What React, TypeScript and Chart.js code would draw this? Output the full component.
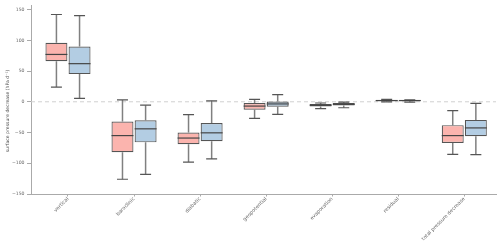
import React, { useEffect, useRef } from "react";
import { Chart, registerables } from "chart.js";

Chart.register(...registerables);

const categories = ["vertical", "baroclinic", "diabatic", "geopotential", "evaporation", "residual", "total pressure decrease"];
const yTicks = [-150, -100, -50, 0, 50, 100, 150];
const yTitle = "surface pressure decrease (hPa d\u207B\u00B9)";

// series A (red)
const aMin = [24, -126, -98, -27, -11, 0, -85.5];
const aQ1 = [66, -82, -69, -13, -7.5, 1, -67];
const aMed = [77, -55, -59, -7, -5.5, 2, -55];
const aQ3 = [96, -32, -50, -2, -3.5, 3, -38];
const aMax = [142, 3, -21, 4, -2, 4, -14.5];

// series B (blue)
const bMin = [5.5, -118, -93, -20.5, -9.7, -0.5, -86];
const bQ1 = [45, -66, -64, -8, -6, 1, -56];
const bMed = [62, -44, -50.5, -3.5, -4, 2, -42.5];
const bQ3 = [90, -30, -34.5, 0.5, -2, 2.5, -29.5];
const bMax = [140, -5.5, 1.5, 11.5, -0.5, 3, -2.7];

const stats = [
  { min: aMin, med: aMed, max: aMax, q1: aQ1, q3: aQ3 },
  { min: bMin, med: bMed, max: bMax, q1: bQ1, q3: bQ3 },
];

const boxPlugin = {
  id: "boxExtras",
  beforeDatasetsDraw(chart: any) {
    const { ctx, chartArea, scales } = chart;
    const y0 = scales.y.getPixelForValue(0);
    ctx.save();
    ctx.strokeStyle = "#d0d0d0";
    ctx.lineWidth = 1;
    ctx.setLineDash([4, 3]);
    ctx.beginPath();
    ctx.moveTo(chartArea.left, y0);
    ctx.lineTo(chartArea.right, y0);
    ctx.stroke();
    ctx.restore();
    const ys = scales.y;
    stats.forEach((s, di) => {
      const meta = chart.getDatasetMeta(di);
      meta.data.forEach((el: any, i: number) => {
        const { x, width } = el.getProps(["x", "width"], true);
        ctx.save();
        ctx.strokeStyle = "#808080";
        ctx.lineWidth = 1.5;
        ctx.beginPath();
        ctx.moveTo(x, ys.getPixelForValue(s.q3[i]));
        ctx.lineTo(x, ys.getPixelForValue(s.max[i]));
        ctx.moveTo(x, ys.getPixelForValue(s.q1[i]));
        ctx.lineTo(x, ys.getPixelForValue(s.min[i]));
        ctx.stroke();
        ctx.strokeStyle = "#555";
        ctx.lineWidth = 1.2;
        ctx.beginPath();
        const hw = width / 4;
        ctx.moveTo(x - hw, ys.getPixelForValue(s.max[i]));
        ctx.lineTo(x + hw, ys.getPixelForValue(s.max[i]));
        ctx.moveTo(x - hw, ys.getPixelForValue(s.min[i]));
        ctx.lineTo(x + hw, ys.getPixelForValue(s.min[i]));
        ctx.stroke();
        ctx.restore();
      });
    });
  },
  afterDatasetsDraw(chart: any) {
    const { ctx, scales } = chart;
    const ys = scales.y;
    stats.forEach((s, di) => {
      const meta = chart.getDatasetMeta(di);
      meta.data.forEach((el: any, i: number) => {
        const { x, width } = el.getProps(["x", "width"], true);
        ctx.save();
        ctx.strokeStyle = "#444";
        ctx.lineWidth = 1.2;
        ctx.beginPath();
        const py = ys.getPixelForValue(s.med[i]);
        ctx.moveTo(x - width / 2, py);
        ctx.lineTo(x + width / 2, py);
        ctx.stroke();
        ctx.restore();
      });
    });
  },
  afterDraw(chart: any) {
    const { ctx, scales } = chart;
    const ys = scales.y;
    // axis title, placed a little below the axis centre as in the reference
    const cy = ys.getPixelForValue(-15);
    ctx.save();
    ctx.translate(7.5, cy);
    ctx.rotate(-Math.PI / 2);
    ctx.fillStyle = "#555";
    ctx.font = "4.6px 'DejaVu Sans'";
    ctx.textAlign = "center";
    ctx.textBaseline = "middle";
    ctx.fillText(yTitle, 0, 0);
    ctx.restore();
  },
};

export default function App() {
  const ref = useRef<HTMLCanvasElement>(null);
  useEffect(() => {
    if (!ref.current) return;
    const mk = (q1: number[], q3: number[]) => categories.map((_, i) => ({ x: i, y: [q1[i], q3[i]] }));
    const chart = new Chart(ref.current, {
      type: "bar",
      data: {
        datasets: [
          {
            label: "A",
            data: mk(aQ1, aQ3) as any,
            backgroundColor: "#fbb4ae",
            borderColor: "#555",
            borderWidth: 1.2,
            borderSkipped: false,
            categoryPercentage: 0.7,
            barPercentage: 0.95,
          },
          {
            label: "B",
            data: mk(bQ1, bQ3) as any,
            backgroundColor: "#b3cde3",
            borderColor: "#555",
            borderWidth: 1.2,
            borderSkipped: false,
            categoryPercentage: 0.7,
            barPercentage: 0.95,
          },
        ],
      },
      options: {
        animation: false,
        responsive: false,
        layout: { padding: { top: 5, right: 4, left: 0, bottom: 0 } },
        plugins: { legend: { display: false }, tooltip: { enabled: false } },
        scales: {
          x: {
            type: "linear",
            offset: false,
            min: -0.56,
            max: 6.48,
            afterBuildTicks: (sc: any) => {
              sc.ticks = categories.map((_, i) => ({ value: i }));
            },
            afterFit: (sc: any) => {
              sc.height = 54;
            },
            ticks: {
              callback: (v: any) => categories[Math.round(Number(v))] ?? "",
              minRotation: 45,
              maxRotation: 45,
              autoSkip: false,
              padding: -0.5,
              color: "#666",
              font: { family: "DejaVu Sans", size: 5 },
            },
            grid: { display: true, drawOnChartArea: false, drawTicks: true, tickLength: 2.5, color: "#aaa", offset: false },
            border: { display: true, color: "#aaa", width: 1 },
          },
          y: {
            type: "linear",
            min: -150,
            max: 157,
            afterBuildTicks: (sc: any) => {
              sc.ticks = yTicks.map((v) => ({ value: v }));
            },
            afterFit: (sc: any) => {
              sc.width = 31;
            },
            ticks: {
              callback: (v: any) => String(v).replace("-", "\u2212"),
              padding: 2.5,
              color: "#666",
              font: { family: "DejaVu Sans", size: 4.6 },
            },
            grid: { display: true, drawOnChartArea: false, drawTicks: true, tickLength: 4, color: "#aaa" },
            border: { display: true, color: "#aaa", width: 1 },
            title: { display: false },
          },
        },
      },
      plugins: [boxPlugin],
    } as any);
    return () => chart.destroy();
  }, []);
  return (
    <div style={{ position: "absolute", left: 0, top: 0, width: 500, height: 248, background: "#fff" }}>
      <canvas ref={ref} width={500} height={248} />
    </div>
  );
}
